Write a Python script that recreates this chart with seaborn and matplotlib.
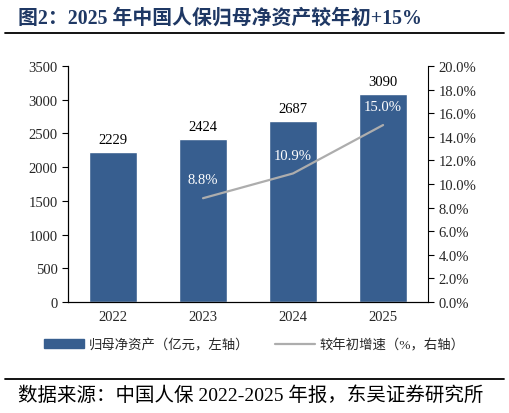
import numpy as np
import pandas as pd
import seaborn as sns
import matplotlib.pyplot as plt
from matplotlib.lines import Line2D
from matplotlib.patches import Patch

# 数据
years = ["2022", "2023", "2024", "2025"]
net_assets = [2229, 2424, 2687, 3090]
growth_years = ["2023", "2024", "2025"]
growth = [8.8, 10.9, 15.0]

bar_color = "#375E8F"
line_color = "#ADADAD"
title_color = "#1F3864"

sns.set_style("white")
plt.rcParams["font.family"] = ["Liberation Serif", "Noto Sans CJK SC", "DejaVu Sans"]

fig = plt.figure(figsize=(5.09, 4.14), dpi=100)
ax = fig.add_axes([0.1336, 0.268, 0.7074, 0.570])

df = pd.DataFrame({"year": years, "value": net_assets})
sns.barplot(data=df, x="year", y="value", color=bar_color, width=0.54,
            saturation=1, ax=ax)
ax.set_xlim(-0.5, 3.5)
ax.set_ylim(0, 3500)
ax.set_yticks(np.arange(0, 3501, 500))
ax.set_xlabel("")
ax.set_ylabel("")
for i, v in enumerate(net_assets):
    ax.text(i, v + 90, f"{v}", ha="center", va="bottom", fontsize=10.5, color="black")

ax.tick_params(axis="x", which="major", length=0, labelsize=10.5, pad=6)
ax.set_xticks([0.5, 1.5, 2.5], minor=True)
ax.tick_params(axis="x", which="minor", length=4, direction="out", color="black")
ax.tick_params(axis="y", length=4, direction="out", labelsize=10.5, left=True, color="black")

ax2 = ax.twinx()
gx = [years.index(y) for y in growth_years]
sns.lineplot(x=gx, y=growth, color=line_color, linewidth=1.6, ax=ax2)
ax2.set_ylim(0, 20)
ax2.set_yticks(np.arange(0, 20.1, 2))
ax2.set_yticklabels([f"{t:.1f}%" for t in np.arange(0, 20.1, 2)])
ax2.tick_params(axis="y", length=4, direction="out", labelsize=10.5, right=True, color="black")
for x, g in zip(gx, growth):
    ax2.text(x, g + 1.0, f"{g:.1f}%", ha="center", va="bottom", fontsize=10.5, color="white")

for a in (ax, ax2):
    a.spines["top"].set_visible(False)
    for s in ("left", "bottom", "right"):
        a.spines[s].set_color("black")
        a.spines[s].set_linewidth(0.8)
ax.spines["right"].set_visible(False)

handles = [Patch(facecolor=bar_color, edgecolor=bar_color),
           Line2D([0], [0], color=line_color, linewidth=1.6)]
labels = ["归母净资产（亿元，左轴）", "较年初增速（%，右轴）"]
fig.legend(handles, labels, loc="center", bbox_to_anchor=(0.5, 0.165), ncol=2,
           frameon=False, fontsize=9.6, handlelength=3.0, handleheight=0.6,
           columnspacing=1.9, handletextpad=0.35)

fig.text(0.035, 0.955, "图2：2025 年中国人保归母净资产较年初+15%", fontsize=14.3,
         fontweight="bold", color=title_color, ha="left", va="center")
fig.add_artist(Line2D([0.01, 0.99], [0.918, 0.918], color="black", linewidth=1.3))
fig.add_artist(Line2D([0.01, 0.99], [0.083, 0.083], color="black", linewidth=1.3))
fig.text(0.035, 0.045, "数据来源：中国人保 2022-2025 年报，东吴证券研究所", fontsize=14,
         color="black", ha="left", va="center")

fig.savefig("out.png", dpi=100)
